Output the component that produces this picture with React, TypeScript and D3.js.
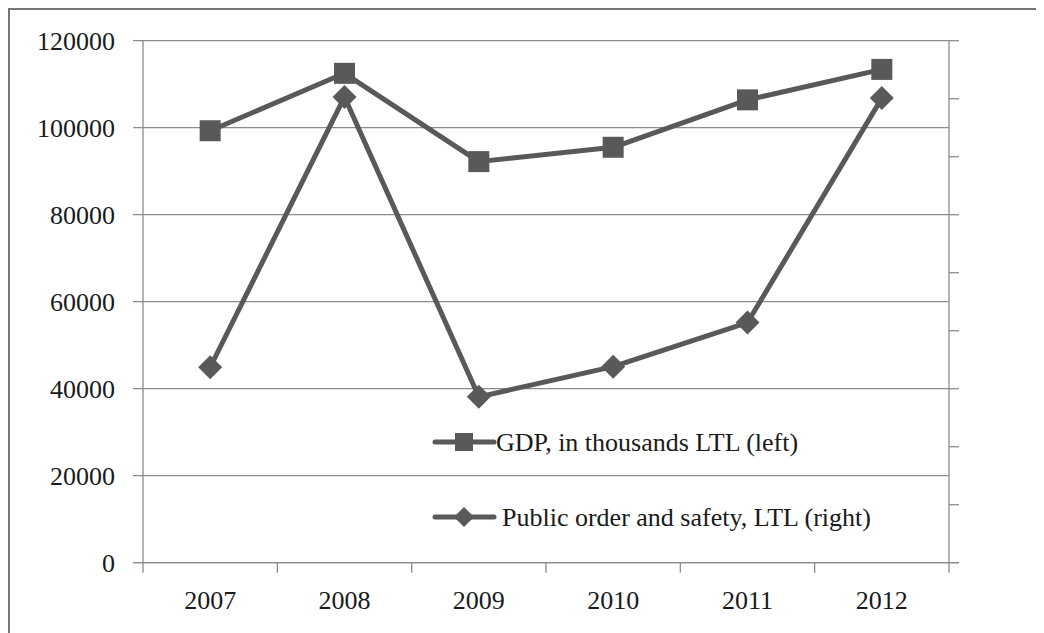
import React, { useEffect, useState } from "react";
import * as d3 from "d3";

const years = ["2007", "2008", "2009", "2010", "2011", "2012"];
// GDP, in thousands LTL (left axis)
const gdp = [99300, 112500, 92200, 95500, 106400, 113400];
// Public order and safety, LTL (right axis, unlabelled in the source)
const publicOrder = [337, 803, 286, 338, 414, 801];
const leftTicks = [0, 20000, 40000, 60000, 80000, 100000, 120000];
const rightTicks = [0, 100, 200, 300, 400, 500, 600, 700, 800, 900];

const W = 1044;
const H = 633;
const left = 143;
const right = 949;
const top = 40.7;
const bottom = 562.7;

const lineColor = "#595959";
const axisColor = "#8c8c8c";
const font = "Liberation Serif";

const App = () => {
  const [, setTick] = useState(0);
  useEffect(() => {
    // make sure the serif face is picked up, then redraw
    if (document.fonts) {
      document.fonts.load(`26px "${font}"`).then(() => setTick(t => t + 1));
    }
  }, []);

  const x = d3.scaleBand().domain(years).range([left, right]);
  const yLeft = d3.scaleLinear().domain([0, 120000]).range([bottom, top]);
  const yRight = d3.scaleLinear().domain([0, 900]).range([bottom, top]);
  const cx = (y: string) => (x(y) as number) + x.bandwidth() / 2;

  const gdpLine = d3
    .line<number>()
    .x((_, i) => cx(years[i]))
    .y(d => yLeft(d))(gdp);
  const poLine = d3
    .line<number>()
    .x((_, i) => cx(years[i]))
    .y(d => yRight(d))(publicOrder);

  const sq = 21;
  const dm = 12;
  const diamond = (px: number, py: number, r: number) =>
    `M${px},${py - r}L${px + r},${py}L${px},${py + r}L${px - r},${py}Z`;

  const xTicks = [...years.map(y => x(y) as number), right];

  return (
    <svg width={W} height={H} viewBox={`8 8 ${W} ${H}`}>
      {/* outer frame */}
      <rect x={9} y={9} width={W + 20} height={H + 20} fill="none" stroke="#777" strokeWidth={2} />

      {/* gridlines + left ticks */}
      {leftTicks.map(t => (
        <line key={t} x1={left - 10} x2={right} y1={yLeft(t)} y2={yLeft(t)} stroke={axisColor} strokeWidth={1.3} />
      ))}
      {/* right ticks */}
      {rightTicks.map(t => (
        <line key={t} x1={right} x2={right + 10} y1={yRight(t)} y2={yRight(t)} stroke={axisColor} strokeWidth={1.3} />
      ))}
      {/* axes */}
      <line x1={left} x2={left} y1={top} y2={bottom} stroke={axisColor} strokeWidth={1.3} />
      <line x1={right} x2={right} y1={top} y2={bottom} stroke={axisColor} strokeWidth={1.3} />
      <line x1={left - 10} x2={right + 10} y1={bottom} y2={bottom} stroke={axisColor} strokeWidth={1.3} />
      {xTicks.map((t, i) => (
        <line key={i} x1={t} x2={t} y1={bottom} y2={bottom + 10} stroke={axisColor} strokeWidth={1.3} />
      ))}

      {/* left labels */}
      {leftTicks.map(t => (
        <text key={t} x={115} y={yLeft(t) + 9} textAnchor="end" fontSize={26} fontFamily={font} fill="#1a1a1a">
          {String(t)}
        </text>
      ))}
      {/* x labels */}
      {years.map(y => (
        <text key={y} x={cx(y)} y={609} textAnchor="middle" fontSize={26} fontFamily={font} fill="#1a1a1a">
          {y}
        </text>
      ))}

      {/* series */}
      <path d={gdpLine ?? ""} fill="none" stroke={lineColor} strokeWidth={5} strokeLinejoin="round" />
      <path d={poLine ?? ""} fill="none" stroke={lineColor} strokeWidth={5} strokeLinejoin="round" />
      {gdp.map((v, i) => (
        <rect key={i} x={cx(years[i]) - sq / 2} y={yLeft(v) - sq / 2} width={sq} height={sq} fill={lineColor} />
      ))}
      {publicOrder.map((v, i) => (
        <path key={i} d={diamond(cx(years[i]), yRight(v), dm)} fill={lineColor} />
      ))}

      {/* legend */}
      <line x1={435} x2={494} y1={442} y2={442} stroke={lineColor} strokeWidth={5} strokeLinecap="round" />
      <rect x={464 - 9} y={442 - 9} width={18} height={18} fill={lineColor} />
      <text x={496} y={451} fontSize={26} fontFamily={font} fill="#1a1a1a">GDP, in thousands LTL (left)</text>
      <line x1={435} x2={494} y1={517} y2={517} stroke={lineColor} strokeWidth={5} strokeLinecap="round" />
      <path d={diamond(464, 517, 10)} fill={lineColor} />
      <text x={502} y={526} fontSize={26} fontFamily={font} fill="#1a1a1a">Public order and safety, LTL (right)</text>
    </svg>
  );
};

export default App;
